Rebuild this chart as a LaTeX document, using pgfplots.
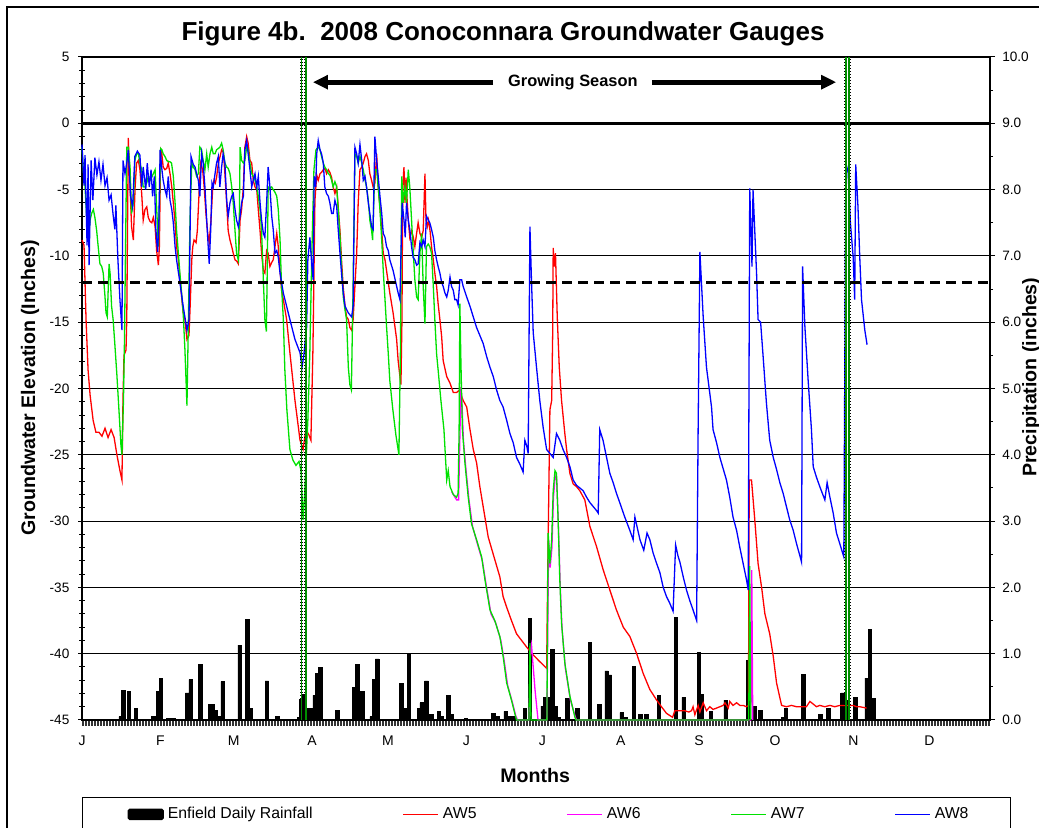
\documentclass[border=0pt]{standalone}
\usepackage{fontspec}
\setmainfont{Liberation Sans}
\usepackage{pgfplots}
\pgfplotsset{compat=1.18}
\usetikzlibrary{arrows.meta}
\definecolor{aw5}{RGB}{255,0,0}
\definecolor{aw6}{RGB}{255,0,255}
\definecolor{aw7}{RGB}{0,225,0}
\definecolor{aw8}{RGB}{0,0,255}
\definecolor{gsgreen}{RGB}{0,140,0}

\pgfplotstableread{
day rain
15.3 0.05
16.3 0.45
18.5 0.43
21.3 0.17
28.2 0.05
30.0 0.43
31.2 0.63
34.1 0.03
36.1 0.03
41.6 0.41
43.0 0.61
46.8 0.84
50.6 0.24
51.7 0.24
52.8 0.15
53.9 0.05
55.6 0.58
62.3 1.13
65.3 1.52
66.5 0.17
73.1 0.59
77.2 0.05
85.9 0.04
86.6 0.31
87.7 0.39
89.8 0.17
90.8 0.17
92.0 0.37
93.0 0.70
94.3 0.79
100.9 0.15
107.5 0.49
108.8 0.84
110.8 0.43
114.5 0.05
115.4 0.61
116.7 0.92
126.2 0.55
127.5 0.18
129.2 1.00
133.2 0.18
134.3 0.26
136.2 0.59
138.2 0.08
141.1 0.13
142.3 0.06
144.8 0.37
146.2 0.08
151.8 0.03
162.6 0.10
164.3 0.06
167.5 0.13
169.2 0.05
170.5 0.05
175.1 0.18
177.1 1.53
182.1 0.21
183.0 0.34
184.3 0.34
185.9 1.07
187.2 0.21
188.3 0.04
191.8 0.33
195.8 0.18
200.8 1.17
204.5 0.24
207.4 0.74
208.7 0.68
213.4 0.11
215.0 0.04
218.2 0.81
220.8 0.08
223.2 0.08
228.1 0.37
234.8 1.55
237.9 0.34
243.9 1.02
244.9 0.39
248.6 0.13
254.5 0.30
263.4 0.90
265.7 0.20
268.1 0.15
277.2 0.04
278.3 0.18
285.1 0.69
292.0 0.08
295.0 0.18
300.7 0.41
301.9 0.30
305.8 0.34
310.2 0.63
311.5 1.37
312.8 0.32
}\rain

\pgfplotstableread{
day elev
0.0 -8.8
0.8 -9.2
1.6 -14.8
2.4 -18.6
3.2 -20.5
4.4 -22.4
5.5 -23.3
6.7 -23.3
7.9 -23.6
9.1 -23.0
10.3 -23.7
11.5 -23.1
12.7 -23.7
13.8 -25.0
15.0 -26.2
15.8 -26.9
16.2 -20.9
16.6 -17.5
17.4 -17.1
17.7 -14.8
18.3 -1.1
19.0 -4.8
19.6 -7.8
20.3 -8.8
21.0 -4.8
21.6 -3.0
22.3 -2.8
22.9 -3.5
23.6 -5.3
24.2 -7.3
24.9 -6.5
25.6 -6.3
26.2 -7.1
26.9 -7.4
27.6 -7.5
28.2 -7.1
28.9 -7.8
29.5 -9.6
30.2 -10.7
30.6 -9.3
31.1 -2.0
31.5 -2.2
32.1 -3.3
32.8 -3.5
33.5 -3.4
34.1 -3.0
34.8 -3.8
35.5 -4.8
36.1 -6.0
36.8 -7.5
37.4 -9.3
38.1 -10.3
38.7 -11.6
39.4 -13.1
40.0 -14.3
40.7 -14.8
41.5 -16.3
42.3 -16.0
42.7 -14.1
43.4 -10.3
43.8 -9.3
44.3 -8.8
45.1 -9.0
45.6 -8.1
46.4 -4.8
46.9 -3.0
47.7 -3.5
48.3 -4.8
49.0 -6.8
49.7 -8.3
50.3 -9.0
51.0 -7.3
51.7 -4.8
52.2 -4.3
52.7 -4.5
53.2 -4.1
53.9 -3.0
54.6 -2.5
55.2 -2.0
55.9 -2.2
56.5 -3.8
57.2 -6.0
57.8 -8.1
58.5 -8.8
59.2 -9.3
59.8 -9.8
60.5 -10.3
61.2 -10.4
61.8 -10.6
62.5 -7.3
63.1 -6.5
63.8 -4.8
64.4 -1.8
65.1 -1.0
65.7 -1.5
66.4 -2.8
67.1 -3.0
67.7 -4.3
68.4 -4.8
69.1 -5.0
69.7 -6.5
70.4 -8.1
71.0 -9.8
71.7 -11.1
72.3 -11.3
73.0 -9.6
73.6 -9.8
74.3 -10.8
75.0 -10.5
75.6 -10.3
76.3 -9.3
77.0 -8.3
77.6 -9.3
78.3 -11.1
78.9 -12.6
79.6 -13.3
80.9 -14.8
82.2 -17.3
84.2 -20.9
86.2 -23.9
87.4 -24.6
88.5 -23.1
89.7 -23.5
90.5 -23.9
91.3 -17.1
92.1 -5.8
92.8 -3.9
93.4 -4.3
94.1 -3.8
94.7 -3.7
95.4 -3.5
96.1 -3.4
96.7 -3.8
97.4 -3.5
98.0 -3.7
98.7 -4.1
99.3 -4.8
100.0 -5.3
100.7 -4.8
101.3 -6.3
102.0 -8.1
102.7 -10.6
103.3 -12.4
104.0 -13.8
104.6 -14.6
105.3 -14.8
105.9 -15.4
106.6 -15.6
107.2 -14.8
107.9 -12.3
108.6 -9.8
109.2 -6.0
109.9 -3.5
110.6 -3.3
111.2 -3.0
111.9 -2.5
112.5 -2.3
113.2 -2.8
113.8 -3.8
114.5 -4.3
115.1 -4.8
115.8 -4.5
116.5 -2.3
117.1 -4.8
117.8 -6.3
118.5 -8.1
119.1 -9.8
119.8 -10.3
120.4 -11.1
121.7 -12.8
123.0 -14.3
124.4 -16.3
125.0 -17.9
125.4 -18.6
126.1 -19.7
126.5 -14.8
126.8 -4.8
127.3 -3.3
127.7 -6.0
128.1 -4.1
128.5 -5.6
129.0 -7.3
129.6 -8.6
130.3 -8.1
131.0 -8.6
131.6 -9.3
132.3 -8.3
132.9 -7.5
133.6 -8.3
134.3 -8.6
134.9 -8.1
135.6 -3.8
136.0 -7.3
136.5 -7.8
137.0 -7.3
137.6 -8.1
138.2 -9.3
138.9 -10.3
139.5 -11.3
140.2 -12.3
140.8 -13.6
141.5 -14.8
142.2 -16.1
142.8 -17.9
144.2 -19.1
145.5 -19.6
146.8 -20.3
148.1 -20.3
149.4 -20.1
150.1 -20.6
150.7 -20.9
152.1 -21.4
153.4 -23.1
154.7 -24.6
156.0 -25.6
157.3 -27.4
158.6 -28.9
160.6 -31.2
163.2 -32.9
165.2 -34.2
166.5 -35.7
167.9 -36.5
169.8 -37.5
171.8 -38.5
173.8 -39.0
175.8 -39.5
178.4 -40.1
181.0 -40.6
183.7 -41.1
184.2 -32.9
185.0 -21.6
185.7 -20.9
186.1 -15.8
186.3 -9.4
186.7 -10.8
187.2 -9.8
187.9 -14.6
188.7 -18.4
189.6 -20.9
190.9 -23.4
191.6 -24.6
192.9 -26.4
194.2 -27.2
195.5 -27.4
196.8 -27.7
198.8 -28.4
200.8 -30.4
203.4 -31.9
206.1 -33.7
208.7 -35.2
211.3 -36.7
214.0 -38.0
216.6 -38.7
219.3 -40.0
221.9 -41.5
224.5 -42.7
227.2 -43.5
229.1 -44.0
231.1 -44.5
233.5 -44.8
234.4 -44.3
236.4 -44.3
238.3 -44.3
239.9 -44.4
241.0 -44.3
241.6 -44.0
242.3 -44.6
243.6 -43.9
244.3 -44.4
245.6 -43.7
246.9 -44.3
248.2 -44.0
249.5 -44.2
250.9 -44.1
252.2 -44.0
253.5 -43.9
254.2 -43.7
255.5 -44.1
256.1 -43.6
257.4 -43.9
258.8 -43.7
260.1 -43.9
261.4 -43.9
262.7 -44.0
263.5 -43.9
263.8 -26.9
264.7 -26.9
266.0 -29.9
267.3 -33.2
268.7 -35.0
270.0 -37.0
271.9 -38.5
273.3 -40.2
274.6 -42.2
276.6 -43.9
278.5 -44.0
280.5 -43.9
282.5 -44.0
284.5 -44.0
286.4 -44.0
287.8 -43.6
289.1 -43.8
290.4 -44.0
291.7 -43.9
293.7 -44.0
295.7 -43.9
297.6 -44.0
299.6 -43.9
300.9 -43.9
302.9 -43.9
304.9 -43.9
306.2 -44.0
307.5 -44.0
310.2 -44.1
}\awfive

\pgfplotstableread{
day elev
146.2 -27.8
148.1 -28.4
148.9 -28.4
149.8 -19.9
150.2 -20.9
150.8 -23.9
151.8 -26.1
153.0 -28.4
154.4 -30.4
156.3 -31.7
158.3 -33.0
159.7 -34.7
161.7 -37.0
163.6 -37.7
165.6 -39.0
166.9 -40.5
168.3 -42.4
170.2 -43.7
171.5 -44.7
172.2 -45.0
176.7 -45.0
177.3 -39.7
177.7 -39.3
179.1 -42.7
180.3 -45.0
183.8 -45.0
184.5 -31.4
185.1 -33.5
185.8 -32.0
186.4 -28.2
187.1 -26.6
187.7 -26.9
188.4 -30.7
189.1 -35.0
189.8 -38.1
191.1 -41.1
193.1 -43.5
195.1 -44.8
195.5 -45.0
264.4 -45.0
264.8 -33.7
265.2 -45.0
}\awsix

\pgfplotstableread{
day elev
0.0 -1.8
0.5 -3.5
1.2 -4.8
1.9 -7.3
2.5 -8.8
3.2 -7.3
3.8 -6.8
4.5 -6.5
5.1 -7.1
5.8 -8.1
6.4 -9.3
7.1 -10.6
7.8 -10.8
8.4 -11.3
9.1 -13.1
9.5 -14.3
10.0 -14.6
10.7 -10.6
11.1 -11.3
11.7 -13.8
12.3 -14.8
13.0 -16.7
13.8 -19.0
14.6 -21.6
15.4 -24.3
15.8 -25.0
16.4 -20.9
16.8 -16.3
17.2 -9.6
17.7 -1.8
18.3 -1.8
19.0 -3.3
19.6 -6.8
20.3 -6.0
20.9 -2.8
21.6 -2.3
22.3 -2.3
22.9 -3.0
23.6 -3.5
24.2 -4.8
24.9 -4.8
25.6 -4.5
26.2 -4.0
26.9 -4.3
27.5 -4.1
28.2 -3.8
28.9 -3.5
29.5 -6.3
30.2 -9.3
30.6 -6.0
31.1 -1.9
31.6 -2.0
32.1 -2.3
32.8 -2.5
33.5 -2.8
34.1 -2.9
34.8 -2.9
35.4 -3.0
36.1 -4.0
36.8 -6.0
37.4 -8.1
38.1 -9.8
38.7 -11.3
39.4 -12.8
40.0 -14.3
40.7 -17.1
41.5 -21.3
42.0 -15.6
42.7 -7.3
43.4 -3.0
44.0 -3.3
44.7 -3.5
45.3 -4.0
46.0 -3.8
46.6 -1.8
47.3 -2.0
47.9 -2.8
48.6 -3.5
49.3 -2.3
49.9 -3.3
50.6 -2.3
51.3 -1.8
51.9 -2.3
52.6 -2.3
53.2 -2.0
53.9 -1.9
54.5 -1.8
55.2 -1.5
55.8 -2.0
56.5 -3.0
57.2 -3.3
57.8 -3.4
58.5 -3.8
59.2 -4.8
59.8 -6.0
60.5 -8.1
61.1 -9.8
61.8 -10.3
62.2 -7.3
62.5 -1.8
63.1 -2.8
63.8 -3.0
64.4 -2.8
65.1 -1.8
65.7 -2.0
66.4 -3.0
67.1 -3.8
67.7 -4.0
68.4 -4.3
69.1 -4.8
69.7 -5.5
70.4 -6.5
71.0 -8.1
71.7 -11.8
72.3 -14.8
72.9 -15.7
73.3 -10.3
73.6 -4.8
74.3 -4.9
75.0 -4.8
75.6 -5.0
76.3 -5.2
77.0 -5.5
77.6 -6.5
78.3 -8.8
78.9 -12.3
79.6 -14.8
80.2 -18.6
81.0 -21.6
82.2 -24.6
83.4 -25.4
84.6 -25.8
85.8 -25.5
86.6 -26.2
87.4 -29.9
88.1 -27.7
89.3 -22.4
90.1 -17.1
90.9 -9.6
91.7 -3.5
92.5 -2.0
93.4 -1.8
94.1 -2.0
94.7 -2.5
95.4 -3.0
96.0 -3.3
96.7 -3.5
97.4 -3.8
98.0 -3.9
98.7 -4.3
99.3 -4.8
100.0 -4.4
100.7 -4.8
101.3 -6.5
102.0 -8.6
102.6 -10.8
103.3 -13.1
104.0 -14.1
104.6 -14.8
105.3 -18.4
105.9 -19.7
106.5 -20.1
107.1 -13.3
107.9 -2.3
108.6 -2.5
109.2 -3.0
109.9 -2.5
110.6 -3.0
111.2 -3.5
111.9 -4.3
112.5 -4.8
113.2 -5.8
113.8 -7.3
114.5 -8.1
114.9 -8.8
115.4 -5.8
115.8 -3.5
116.5 -3.5
117.1 -4.8
117.8 -6.5
118.5 -8.8
119.1 -11.1
119.8 -13.3
120.4 -15.3
121.1 -17.4
121.7 -19.4
122.9 -21.6
124.1 -23.5
125.3 -25.0
125.9 -17.1
126.4 -4.0
127.0 -6.0
127.7 -4.8
128.3 -6.0
129.0 -3.5
129.6 -4.8
130.3 -7.3
131.0 -9.8
131.6 -11.8
132.3 -13.1
132.9 -13.3
133.6 -9.8
134.3 -8.3
134.9 -12.3
135.6 -15.1
136.2 -9.3
136.9 -9.1
137.5 -9.3
138.2 -9.8
138.9 -12.3
139.5 -14.8
140.2 -17.4
140.8 -18.6
141.9 -20.9
143.1 -23.1
144.2 -26.9
144.8 -26.2
145.5 -27.4
146.8 -28.0
148.1 -28.2
148.7 -27.9
149.1 -23.1
149.4 -13.6
149.8 -17.9
150.4 -23.1
151.4 -25.6
152.7 -28.2
154.0 -30.2
156.0 -31.4
158.0 -32.7
159.3 -34.4
161.3 -36.7
163.2 -37.5
165.2 -38.7
166.5 -40.2
167.9 -42.2
169.8 -43.5
171.1 -44.5
171.8 -45.0
176.7 -45.0
177.1 -39.2
177.5 -45.0
183.8 -45.0
184.3 -30.9
185.0 -33.2
185.7 -31.4
186.3 -27.7
187.0 -26.2
187.6 -26.4
188.3 -30.2
188.9 -34.4
189.6 -37.7
190.9 -40.7
192.9 -43.2
194.9 -44.8
195.3 -45.0
263.6 -45.0
264.0 -33.4
264.4 -45.0
}\awseven

\pgfplotstableread{
day elev
0.0 -1.6
0.8 -4.7
1.2 -2.4
2.0 -9.2
2.4 -3.1
2.8 -10.7
3.6 -2.8
4.3 -5.8
5.1 -2.6
5.9 -3.9
6.7 -2.9
7.5 -4.3
8.3 -3.1
9.1 -4.7
9.9 -4.1
10.7 -5.8
11.5 -5.4
12.3 -6.9
13.0 -8.0
13.4 -6.2
14.2 -10.3
15.0 -13.3
15.8 -15.6
16.2 -2.8
17.0 -3.8
17.7 -3.0
18.3 -2.0
19.2 -5.5
20.0 -6.3
20.9 -2.5
21.9 -2.1
22.9 -2.4
23.6 -4.8
24.2 -3.3
25.2 -5.0
25.8 -3.0
26.6 -4.8
27.3 -3.5
27.9 -5.5
28.6 -4.0
29.2 -8.0
29.9 -9.7
30.4 -7.3
30.9 -2.0
31.6 -3.5
32.1 -4.3
32.8 -5.0
33.5 -5.5
34.1 -4.0
34.8 -5.8
35.5 -6.5
36.1 -7.5
36.8 -9.3
37.4 -10.3
38.7 -12.0
40.0 -13.8
41.1 -15.1
41.5 -15.6
42.3 -14.8
43.1 -2.5
44.0 -3.1
44.7 -3.3
45.3 -3.8
46.0 -4.3
46.6 -5.5
47.3 -2.3
47.9 -3.0
48.6 -4.8
49.3 -7.3
49.9 -9.3
50.3 -10.6
50.9 -8.0
51.4 -4.5
51.9 -4.8
52.6 -3.8
53.2 -3.0
53.9 -2.5
54.5 -4.8
55.2 -3.3
55.8 -2.3
56.5 -3.0
57.2 -5.8
57.8 -7.0
58.5 -6.0
59.2 -5.5
59.8 -5.3
60.5 -6.5
61.1 -7.3
61.8 -7.8
62.5 -7.0
63.1 -6.0
63.8 -5.5
64.4 -2.0
65.1 -1.3
65.7 -2.3
66.4 -3.5
67.1 -4.8
67.7 -4.3
68.4 -3.8
69.1 -4.8
69.7 -4.0
70.4 -6.0
71.0 -7.3
71.7 -8.3
72.3 -8.6
73.0 -6.0
73.6 -3.3
74.3 -4.8
75.0 -7.0
75.6 -8.0
76.3 -9.8
77.0 -9.6
77.6 -10.1
78.3 -11.3
79.6 -12.8
80.9 -13.8
82.2 -14.8
84.2 -16.3
86.2 -17.3
87.0 -18.4
87.7 -17.5
88.8 -15.4
89.3 -10.3
90.1 -8.6
90.8 -10.6
91.4 -11.8
91.8 -4.0
92.4 -4.8
92.8 -2.3
93.4 -1.3
94.1 -2.0
94.7 -2.3
95.4 -3.0
96.0 -4.8
96.7 -5.3
97.4 -5.5
98.0 -6.0
98.7 -6.8
99.3 -6.8
100.0 -5.8
100.7 -6.3
101.3 -8.0
102.0 -9.8
102.6 -11.3
103.3 -12.8
104.0 -13.8
105.3 -14.3
106.6 -14.6
107.2 -13.8
107.9 -1.8
108.6 -2.3
109.2 -3.0
109.9 -1.6
110.6 -2.8
111.2 -4.3
111.9 -4.0
112.5 -4.8
113.2 -6.0
113.8 -6.8
114.5 -7.8
115.1 -8.0
115.8 -1.0
116.5 -2.8
117.1 -4.0
117.8 -5.5
118.5 -6.8
119.1 -8.3
119.8 -8.6
120.4 -9.3
121.1 -9.6
121.7 -10.3
123.0 -11.1
124.4 -12.3
125.0 -12.8
125.7 -13.3
126.1 -9.8
126.6 -6.0
127.3 -7.3
127.8 -8.6
128.3 -6.0
129.0 -7.3
129.6 -8.0
130.3 -9.3
130.9 -10.1
131.6 -10.3
132.3 -10.7
132.9 -10.6
133.6 -9.0
134.3 -9.3
134.9 -8.8
135.6 -9.3
136.2 -7.0
136.9 -7.3
137.5 -7.5
138.2 -8.0
138.9 -8.6
139.5 -9.6
140.2 -10.3
140.8 -10.8
141.5 -11.3
142.2 -12.0
142.8 -12.3
143.5 -12.8
144.2 -13.1
144.8 -12.6
145.5 -11.6
146.1 -12.3
146.8 -12.6
147.4 -13.3
148.1 -13.3
148.7 -13.7
149.4 -11.8
150.1 -11.8
150.7 -12.3
152.1 -13.1
153.4 -13.8
154.7 -14.6
156.0 -15.4
157.3 -16.0
158.6 -16.6
160.0 -17.6
161.3 -18.4
162.6 -19.1
163.9 -20.1
165.2 -20.9
166.5 -21.4
167.9 -22.4
169.2 -23.4
170.5 -24.1
171.8 -25.2
173.1 -25.7
174.4 -26.3
175.1 -23.9
175.8 -24.3
176.4 -24.9
177.1 -7.8
177.7 -11.8
178.4 -15.8
179.7 -18.4
181.0 -20.9
182.3 -22.9
183.7 -24.6
185.0 -24.9
186.3 -25.2
187.6 -23.4
188.9 -23.9
190.2 -24.6
191.6 -25.2
192.9 -25.9
194.2 -26.9
195.5 -27.3
196.8 -27.5
198.1 -27.7
199.5 -28.2
200.8 -28.6
202.1 -28.9
203.4 -29.2
204.1 -29.4
204.7 -23.1
206.0 -23.9
207.4 -25.2
208.7 -26.4
210.0 -27.1
211.3 -27.9
212.6 -28.6
214.6 -29.7
216.6 -30.7
217.9 -31.4
218.6 -29.7
220.6 -31.4
222.1 -32.2
223.4 -30.9
224.5 -31.4
225.8 -32.4
227.2 -33.2
228.5 -33.9
229.8 -35.0
231.1 -35.7
232.4 -36.2
233.7 -36.8
234.7 -31.8
235.6 -32.6
236.4 -33.1
237.7 -34.2
239.0 -35.2
240.3 -36.0
241.6 -36.7
243.0 -37.5
243.6 -23.1
244.3 -9.7
245.6 -14.6
246.9 -18.4
248.9 -21.4
249.5 -23.1
250.9 -24.1
252.2 -25.2
254.8 -26.9
256.1 -28.2
257.4 -29.7
258.8 -30.7
260.1 -32.0
261.4 -33.2
262.7 -34.4
263.4 -35.2
264.0 -4.9
264.9 -10.8
265.3 -5.0
266.7 -11.3
267.3 -14.8
268.3 -15.0
269.3 -17.6
270.6 -21.1
271.9 -23.9
273.3 -25.2
274.6 -26.1
275.9 -27.1
277.2 -27.9
278.5 -28.9
279.8 -29.9
281.2 -30.7
282.5 -31.7
283.8 -32.6
284.5 -33.1
284.9 -10.8
285.8 -15.3
287.1 -19.4
288.4 -23.1
289.1 -25.9
290.4 -26.7
291.7 -27.4
293.7 -28.4
294.6 -27.1
295.7 -28.2
297.0 -29.4
298.3 -30.9
299.6 -31.7
301.2 -32.7
302.0 -3.0
302.9 -3.7
303.8 -7.5
304.9 -10.1
305.5 -13.3
305.9 -3.1
306.8 -6.3
307.5 -10.1
308.2 -13.3
309.5 -15.6
310.4 -16.7
}\aweight

\begin{document}
\begin{tikzpicture}
\useasboundingbox (0pt,0pt) rectangle (519.5pt,414pt);
\draw[line width=0.8pt] (3.5pt,0pt) -- (3.5pt,410.5pt) -- (519.5pt,410.5pt);

% ---- precipitation (right axis, bars) ----
\begin{axis}[
  at={(41pt,54pt)}, anchor=south west,
  scale only axis, width=454pt, height=331.5pt,
  xmin=0, xmax=359, ymin=0, ymax=10,
  axis x line=none,
  axis y line*=right,
  ytick={0,1,...,10},
  minor y tick num=1,
  tick align=outside,
  major tick length=2.6pt, minor tick length=1.6pt,
  every tick/.style={black, line width=0.5pt},
  y axis line style={line width=0.6pt},
  yticklabel style={font=\fontsize{6.8}{8}\selectfont,
    /pgf/number format/.cd, fixed, fixed zerofill, precision=1,
    assume math mode=true},
  ymajorgrids, grid style={black, line width=0.5pt},
  ylabel={Precipitation (inches)},
  ylabel style={at={(axis description cs:1.0455,0.517)}, anchor=center,
    font=\bfseries\fontsize{9.8}{11}\selectfont},
  ybar, bar width=1.4,
]
\addplot[fill=black, draw=black, line width=0.3pt] table[x=day, y=rain] {\rain};
\end{axis}

% ---- groundwater (left axis, lines) ----
\begin{axis}[
  at={(41pt,54pt)}, anchor=south west,
  scale only axis, width=454pt, height=331.5pt,
  xmin=0, xmax=359, ymin=-45, ymax=5,
  clip=false,
  axis line style={line width=0.6pt},
  ytick={-45,-40,...,5},
  minor y tick num=4,
  ytick pos=left,
  tick align=center,
  major tick length=3.6pt, minor tick length=2.6pt,
  every tick/.style={black, line width=0.5pt},
  xtick={0,31,60,91,121,152,182,213,244,274,305,335},
  xticklabels={J,F,M,A,M,J,J,A,S,O,N,D},
  xtick style={draw=none},
  xticklabel style={font=\fontsize{7}{8}\selectfont, yshift=-2.5pt},
  yticklabel style={font=\fontsize{6.8}{8}\selectfont, xshift=-1pt,
    /pgf/number format/assume math mode=true},
  title={Figure 4b.\ \ 2008 Conoconnara Groundwater Gauges},
  title style={at={(axis description cs:0.4637,1.0377)}, anchor=center, yshift=-7pt,
    font=\bfseries\fontsize{13}{15}\selectfont},
  xlabel={Months},
  xlabel style={at={(axis description cs:0.499,-0.083)}, anchor=center,
    font=\bfseries\fontsize{9.8}{11}\selectfont},
  ylabel={Groundwater Elevation (Inches)},
  ylabel style={at={(axis description cs:-0.0573,0.5008)}, anchor=center,
    font=\bfseries\fontsize{9.8}{11}\selectfont},
  legend style={at={(axis description cs:0,-0.1161)}, anchor=north west,
    legend columns=5, draw=black, line width=0.6pt,
    inner xsep=19pt, inner ysep=2.8pt,
    font=\fontsize{7.9}{9.5}\selectfont,
    /tikz/every even column/.append style={column sep=43pt}},
  legend cell align=left,
]
\addlegendimage{legend image code/.code={\path (-3.5pt,0pt); \fill[black, rounded corners=0.8pt] (0pt,-2.6pt) rectangle (17.5pt,2.6pt);}}
\addlegendimage{legend image code/.code={\draw[aw5, line width=0.65pt] (0pt,0pt) -- (17.5pt,0pt);}}
\addlegendimage{legend image code/.code={\draw[aw6, line width=0.65pt] (0pt,0pt) -- (17.5pt,0pt);}}
\addlegendimage{legend image code/.code={\draw[aw7, line width=0.65pt] (0pt,0pt) -- (17.5pt,0pt);}}
\addlegendimage{legend image code/.code={\draw[aw8, line width=0.65pt] (0pt,0pt) -- (17.5pt,0pt);}}
\legend{Enfield Daily Rainfall, AW5, AW6, AW7, AW8}

\addplot[aw5, line width=0.65pt] table[x=day, y=elev] {\awfive};
\addplot[aw6, line width=0.65pt] table[x=day, y=elev] {\awsix};
\addplot[aw7, line width=0.65pt] table[x=day, y=elev] {\awseven};
\addplot[aw8, line width=0.65pt] table[x=day, y=elev] {\aweight};

% reference lines
\draw[line width=1.5pt] (axis cs:0,0) -- (axis cs:359,0);
\draw[line width=1.2pt, dash pattern=on 5pt off 3pt] (axis cs:0,-12) -- (axis cs:359,-12);
% growing season markers
\draw[black, line width=1.5pt, dash pattern=on 0.6pt off 0.9pt] (axis cs:86.8,-45) -- (axis cs:86.8,5);
\draw[gsgreen, line width=0.7pt] (axis cs:86.8,-45) -- (axis cs:86.8,5);
\draw[black, line width=1.5pt, dash pattern=on 0.6pt off 0.9pt] (axis cs:88.5,-45) -- (axis cs:88.5,5);
\draw[gsgreen, line width=0.7pt] (axis cs:88.5,-45) -- (axis cs:88.5,5);
\draw[black, line width=1.5pt, dash pattern=on 0.6pt off 0.9pt] (axis cs:302.0,-45) -- (axis cs:302.0,5);
\draw[gsgreen, line width=0.7pt] (axis cs:302.0,-45) -- (axis cs:302.0,5);
\draw[black, line width=1.5pt, dash pattern=on 0.6pt off 0.9pt] (axis cs:303.3,-45) -- (axis cs:303.3,5);
\draw[gsgreen, line width=0.7pt] (axis cs:303.3,-45) -- (axis cs:303.3,5);
\draw[line width=2.5pt, -{Triangle[length=7.5pt,width=6.8pt]}] (axis cs:162.5,3.1) -- (axis cs:91.3,3.1);
\draw[line width=2.5pt, -{Triangle[length=7.5pt,width=6.8pt]}] (axis cs:225.3,3.1) -- (axis cs:298.2,3.1);
\node[font=\bfseries\fontsize{8.2}{10}\selectfont] at (axis cs:194.1,3.1) {Growing Season};
% base of the daily rainfall columns
\draw[black!80, line width=2.5pt, dash pattern=on 1.1pt off 0.4pt]
  (axis cs:0,-45.25) -- (axis cs:359,-45.25);
\end{axis}
\end{tikzpicture}
\end{document}
